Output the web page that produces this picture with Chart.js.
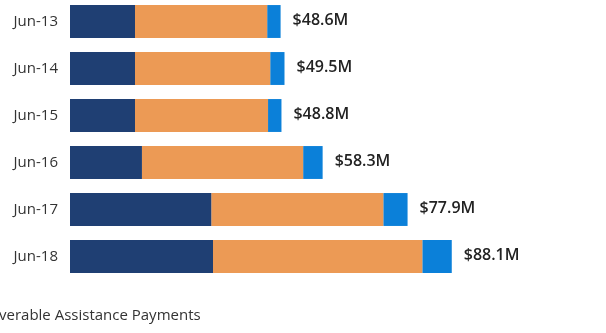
<!DOCTYPE html>
<html>
<head>
<meta charset="utf-8">
<script src="https://cdn.jsdelivr.net/npm/chart.js@4"></script>
<style>
  html, body { margin: 0; padding: 0; background: #fff; overflow: hidden; }
  #wrap { position: relative; width: 606px; height: 335px; margin-top: -2px; }
</style>
</head>
<body>
<div id="wrap"><canvas id="paymentsChart"></canvas></div>
<script>
// ---------- DATA ($M) ----------
let years = ["Jun-13", "Jun-14", "Jun-15", "Jun-16", "Jun-17", "Jun-18"];
let darkPart = [15.0, 15.0, 15.0, 16.6, 32.6, 33.0];
let orangePart = [30.5, 31.2, 30.7, 37.2, 39.7, 48.3];
let bluePart = [3.1, 3.3, 3.1, 4.5, 5.6, 6.8];
let totals = [48.6, 49.5, 48.8, 58.3, 77.9, 88.1];
let footNote = "verable Assistance Payments";

// ---------- LABELS PLUGIN ----------
const totalLabels = {
  id: "totalLabels",
  afterDatasetsDraw(chart) {
    let ctx = chart.ctx;
    let x = chart.scales.x;
    let y = chart.scales.y;
    ctx.save();
    ctx.fillStyle = "#222";
    ctx.font = "600 16px 'Open Sans'";
    ctx.textBaseline = "middle";
    ctx.textAlign = "left";
    totals.forEach((t, i) => {
      ctx.fillText(`$${t.toFixed(1)}M`, x.getPixelForValue(t) + 12, y.getPixelForValue(i) - 1);
    });
    ctx.font = "15px 'Open Sans'";
    ctx.fillStyle = "#333";
    ctx.textBaseline = "alphabetic";
    ctx.fillText(footNote, -1, 322);
    ctx.restore();
  }
};

new Chart(document.getElementById("paymentsChart"), {
  type: "bar",
  data: {
    labels: years,
    datasets: [
      { label: "Dark", data: darkPart, backgroundColor: "#1f3f73" },
      { label: "Orange", data: orangePart, backgroundColor: "#ec9a55" },
      { label: "Blue", data: bluePart, backgroundColor: "#0b80d9" }
    ]
  },
  options: {
    indexAxis: "y",
    responsive: true,
    maintainAspectRatio: false,
    animation: false,
    datasets: {
      bar: { barPercentage: 0.7, categoryPercentage: 1.0, borderWidth: 0 }
    },
    layout: { padding: { left: 0, right: 16, top: 0, bottom: 53 } },
    plugins: {
      legend: { display: false },
      tooltip: { enabled: false }
    },
    scales: {
      x: {
        stacked: true,
        min: 0,
        max: 120,
        display: false
      },
      y: {
        stacked: true,
        grid: { display: false },
        border: { display: false },
        ticks: {
          color: "#333",
          font: { family: "'Open Sans'", size: 15 },
          padding: 4
        },
        afterFit(scale) {
          scale.width = 70;
          scale.paddingTop = 0;
          scale.paddingBottom = 0;
        }
      }
    }
  },
  plugins: [totalLabels]
});
</script>
</body>
</html>
